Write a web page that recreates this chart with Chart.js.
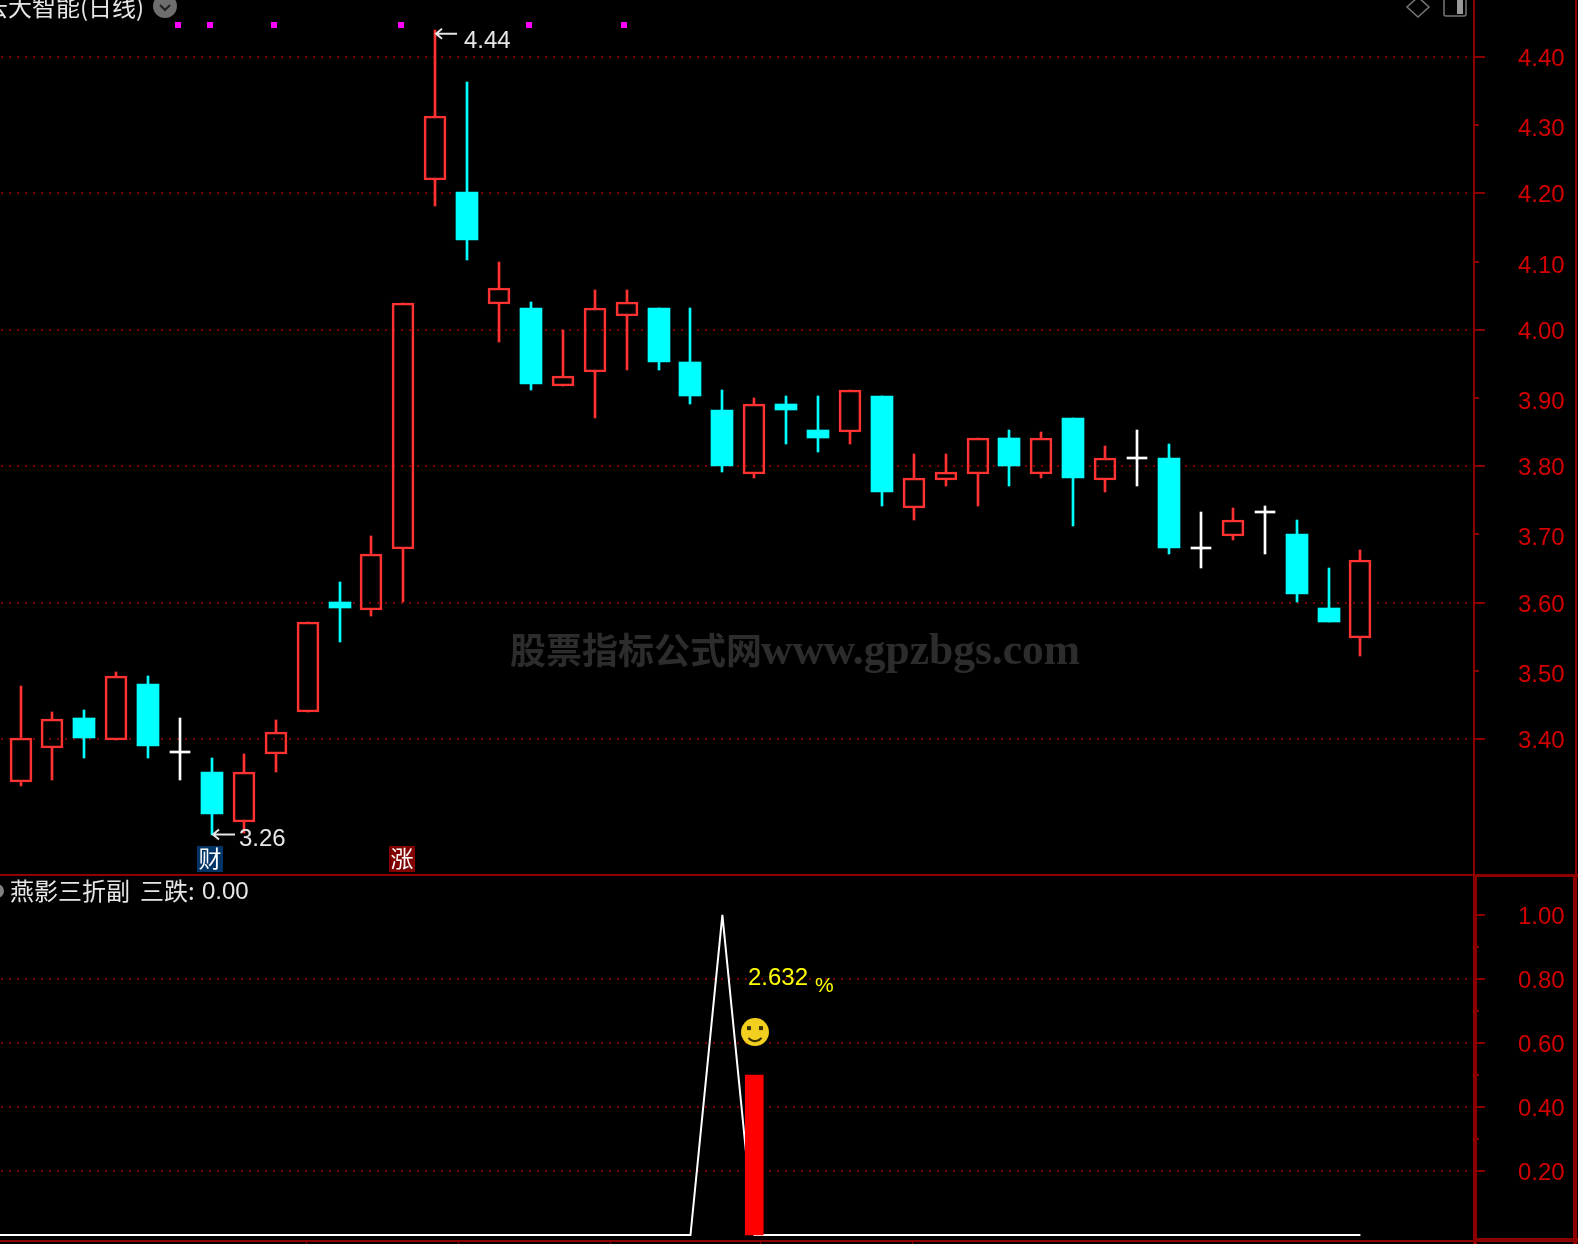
<!DOCTYPE html>
<html>
<head>
<meta charset="utf-8">
<title>燕影三折副</title>
<script src="https://cdn.jsdelivr.net/npm/chart.js@4/dist/chart.umd.js"></script>
<style>
  html, body { margin: 0; background: #000; overflow: hidden; }
  canvas { position: absolute; left: 0; }
  #priceChart { top: 0; }
  #signalChart { top: 874px; }
</style>
</head>
<body>
<canvas id="priceChart" width="1578" height="874"></canvas>
<canvas id="signalChart" width="1578" height="370"></canvas>
<script>
const days = [0,1,2,3,4,5,6,7,8,9,10,11,12,13,14,15,16,17,18,19,20,21,22,23,24,25,26,27,28,29,30,31,32,33,34,35,36,37,38,39,40,41,42];
const open = [3.337,3.387,3.431,3.399,3.481,3.380,3.352,3.278,3.378,3.440,3.601,3.589,3.678,4.220,4.202,4.038,4.032,3.918,3.938,4.020,4.032,3.953,3.882,3.789,3.891,3.853,3.850,3.903,3.739,3.780,3.789,3.841,3.789,3.871,3.780,3.811,3.812,3.679,3.698,3.731,3.701,3.592,3.548];
const close = [3.401,3.430,3.401,3.492,3.390,3.380,3.290,3.351,3.410,3.571,3.592,3.671,4.040,4.313,4.132,4.061,3.921,3.932,4.032,4.041,3.953,3.903,3.800,3.891,3.882,3.841,3.912,3.762,3.783,3.792,3.841,3.800,3.841,3.783,3.812,3.811,3.680,3.679,3.721,3.731,3.613,3.572,3.662];
const high = [3.478,3.440,3.443,3.498,3.492,3.431,3.372,3.378,3.428,3.571,3.630,3.698,4.040,4.440,4.363,4.099,4.041,4.000,4.058,4.058,4.032,4.032,3.912,3.900,3.903,3.903,3.912,3.903,3.818,3.818,3.841,3.853,3.850,3.871,3.830,3.853,3.833,3.733,3.739,3.742,3.721,3.651,3.677];
const low = [3.331,3.340,3.372,3.399,3.372,3.340,3.259,3.262,3.352,3.440,3.542,3.580,3.601,4.182,4.102,3.982,3.912,3.918,3.871,3.941,3.941,3.891,3.792,3.783,3.833,3.821,3.833,3.742,3.721,3.771,3.742,3.771,3.783,3.712,3.762,3.771,3.671,3.651,3.692,3.671,3.601,3.572,3.522];
const markDays = [4.93,5.93,7.93,11.93,15.93,18.93];
const markLevel = 4.447;

const signalDays = [-1,0,1,2,3,4,5,6,7,8,9,10,11,12,13,14,15,16,17,18,19,20,21,22,23,24,25,26,27,28,29,30,31,32,33,34,35,36,37,38,39,40,41,42];
const signal = [0,0,0,0,0,0,0,0,0,0,0,0,0,0,0,0,0,0,0,0,0,0,0,1,0,0,0,0,0,0,0,0,0,0,0,0,0,0,0,0,0,0,0,0];
const signalBarDay = 23;
const signalBarValue = 0.5;

const priceTicks = [3.4,3.5,3.6,3.7,3.8,3.9,4.0,4.1,4.2,4.3,4.4];
const priceGrid = [3.4,3.6,3.8,4.0,4.2,4.4];
const signalTicks = [0.2,0.4,0.6,0.8,1.0];
const signalGrid = [0.2,0.4,0.6,0.8];
const signalMinor = [0.3,0.5,0.7,0.9];
const timeTicks = [8.95,13.72,18.48,23.18,27.94];

const RED = '#ff3232', CYAN = '#00ffff', WHITE = '#ffffff';
const AXIS = '#8c0000', LABEL = '#d20000', TEXT = '#e6e6e6';
const latin = '"Liberation Sans"', cjk = '"Noto Sans CJK SC"';

// same x mapping in both panels so the candles line up with the signal
const xScale = { type: 'linear', min: -0.643, max: 45.56, offset: false, display: false };

function candleColor(i) {
  return close[i] > open[i] ? RED : close[i] < open[i] ? CYAN : WHITE;
}

function wickDataset(data) {
  return { data, grouped: false, barThickness: 2, order: 3,
    backgroundColor: c => candleColor(c.dataIndex) };
}

// keep bars on whole pixels, the original is not antialiased
const snapBars = {
  id: 'snapBars',
  afterDatasetsUpdate(chart) {
    chart.data.datasets.forEach((d, i) => {
      chart.getDatasetMeta(i).data.forEach(el => {
        el.x = Math.round(el.x);
        el.y = Math.round(el.y);
        if (el.base !== undefined) el.base = Math.round(el.base);
      });
    });
  }
};

function yAxis(min, max, ticks, grid) {
  return {
    type: 'linear', position: 'right', min, max, beginAtZero: false,
    afterFit(axis) {
      axis.width = 104;
      axis.paddingTop = 0;
      axis.paddingBottom = 0;
    },
    afterBuildTicks(axis) { axis.ticks = ticks.map(value => ({ value })); },
    border: { display: false, dash: [2, 6], dashOffset: -1 },
    grid: {
      drawTicks: false, lineWidth: 2,
      color: c => grid.includes(c.tick.value) ? '#800000' : 'transparent'
    },
    ticks: { display: false }
  };
}

// labels sit a bit below their tick in the original, unlabelled grid rows more so
function axisLabels(ctx, scale, values, grid, drop) {
  ctx.fillStyle = LABEL;
  ctx.font = '24px ' + latin;
  values.forEach(v => {
    const y = scale.getPixelForValue(v);
    ctx.fillText(v.toFixed(2), 1518, y + (grid.includes(v) ? 9 : drop));
  });
}

function tickMark(ctx, scale, value, from, to) {
  const y = Math.round(scale.getPixelForValue(value));
  ctx.fillRect(from, y - 1, to - from, 2);
}

function pricePointerLine(ctx, x, y, len) {
  ctx.strokeStyle = TEXT;
  ctx.lineWidth = 2;
  ctx.beginPath();
  ctx.moveTo(x + 7, y - 5);
  ctx.lineTo(x + 1, y);
  ctx.lineTo(x + 7, y + 5);
  ctx.moveTo(x + 1, y);
  ctx.lineTo(x + len, y);
  ctx.stroke();
}

function badge(ctx, x, bg, label) {
  ctx.fillStyle = bg;
  ctx.fillRect(x - 13, 846, 26, 26);
  ctx.fillStyle = WHITE;
  ctx.font = '23px ' + cjk;
  ctx.textAlign = 'center';
  ctx.fillText(label, x, 867);
  ctx.textAlign = 'left';
}

const priceOverlay = {
  id: 'priceOverlay',
  beforeDatasetsDraw(chart) {
    const ctx = chart.ctx;
    ctx.save();
    ctx.fillStyle = '#000';
    ctx.fillRect(1467, 0, 8, 874);
    ctx.fillStyle = '#2c2c2c';
    ctx.textBaseline = 'alphabetic';
    ctx.font = 'bold 36px ' + cjk;
    ctx.fillText('股票指标公式网', 510, 664);
    ctx.font = 'bold 43.5px "Liberation Serif"';
    ctx.fillText('www.gpzbgs.com', 761, 664);
    ctx.restore();
  },
  afterDraw(chart) {
    const ctx = chart.ctx, xs = chart.scales.x, ys = chart.scales.y;
    ctx.save();
    ctx.textBaseline = 'alphabetic';

    // axis lines and tick marks
    ctx.fillStyle = AXIS;
    ctx.fillRect(1473, 0, 2, 874);
    ctx.fillRect(1575, 0, 2, 874);
    priceTicks.forEach(v => tickMark(ctx, ys, v, 1475, priceGrid.includes(v) ? 1485 : 1479));
    axisLabels(ctx, ys, priceTicks, priceGrid, 11);

    // title, clipped by the window like in the screenshot
    ctx.fillStyle = TEXT;
    ctx.font = '24px ' + cjk;
    ctx.fillText('云大智能(日线)', -16, 16);

    // collapse button
    ctx.fillStyle = '#6e6e6e';
    ctx.beginPath();
    ctx.arc(165, 6, 12, 0, Math.PI * 2);
    ctx.fill();
    ctx.strokeStyle = '#222';
    ctx.lineWidth = 2;
    ctx.beginPath();
    ctx.moveTo(160, 5);
    ctx.lineTo(165, 10);
    ctx.lineTo(170, 5);
    ctx.stroke();

    // window icons top right
    ctx.strokeStyle = '#777';
    ctx.lineWidth = 1.5;
    ctx.beginPath();
    ctx.moveTo(1418, -3);
    ctx.lineTo(1429, 7);
    ctx.lineTo(1418, 17);
    ctx.lineTo(1407, 7);
    ctx.closePath();
    ctx.stroke();
    ctx.beginPath();
    ctx.roundRect(1444, -6, 22, 22, 2);
    ctx.stroke();
    ctx.fillStyle = '#999';
    ctx.fillRect(1457, 0, 6, 14);

    // high and low labels
    const hiX = Math.round(xs.getPixelForValue(13)), hiY = ys.getPixelForValue(4.44);
    pricePointerLine(ctx, hiX, hiY + 4, 22);
    ctx.fillStyle = TEXT;
    ctx.font = '24px ' + latin;
    ctx.fillText('4.44', hiX + 29, hiY + 18);
    const loX = Math.round(xs.getPixelForValue(6)), loY = ys.getPixelForValue(3.26);
    pricePointerLine(ctx, loX, loY, 23);
    ctx.fillStyle = TEXT;
    ctx.fillText('3.26', loX + 27, loY + 11);

    badge(ctx, Math.round(xs.getPixelForValue(6)) - 2, '#003366', '财');
    badge(ctx, Math.round(xs.getPixelForValue(12)) - 1, '#800000', '涨');
    ctx.restore();
  }
};

const signalOverlay = {
  id: 'signalOverlay',
  beforeDatasetsDraw(chart) {
    const ctx = chart.ctx;
    ctx.fillStyle = '#000';
    ctx.fillRect(1467, 0, 8, 370);
  },
  afterDraw(chart) {
    const ctx = chart.ctx, xs = chart.scales.x, ys = chart.scales.y;
    ctx.save();
    ctx.textBaseline = 'alphabetic';

    // panel frame, heavier than the one above
    ctx.fillStyle = AXIS;
    ctx.fillRect(0, 0, 1474, 2);
    ctx.fillRect(0, 366, 1474, 2);
    ctx.fillRect(1473, 0, 4, 370);
    ctx.fillRect(1473, 0, 105, 3);
    ctx.fillRect(1473, 364, 105, 4);
    ctx.fillRect(1573, 0, 4, 370);
    signalTicks.forEach(v => tickMark(ctx, ys, v, 1477, 1485));
    signalMinor.forEach(v => tickMark(ctx, ys, v, 1477, 1479));
    timeTicks.forEach(d => ctx.fillRect(Math.round(xs.getPixelForValue(d)), 368, 1, 2));
    axisLabels(ctx, ys, signalTicks, signalTicks, 9);

    // indicator title
    ctx.fillStyle = '#808080';
    ctx.beginPath();
    ctx.arc(-3, 17, 7, 0, Math.PI * 2);
    ctx.fill();
    ctx.fillStyle = TEXT;
    ctx.font = '24px ' + cjk;
    ctx.fillText('燕影三折副', 10, 26);
    ctx.fillText('三跌:', 140, 26);
    ctx.font = '24px ' + latin;
    ctx.fillText('0.00', 202, 25);

    const barX = Math.round(xs.getPixelForValue(signalBarDay));
    ctx.fillStyle = '#ffff00';
    ctx.fillText('2.632', barX - 6, ys.getPixelForValue(0.78));
    ctx.font = '21px ' + latin;
    ctx.fillText('%', barX + 61, ys.getPixelForValue(0.76));

    // smiley above the bar
    const cy = ys.getPixelForValue(0.634);
    ctx.fillStyle = '#f2cf1f';
    ctx.beginPath();
    ctx.arc(barX + 1, cy, 14, 0, Math.PI * 2);
    ctx.fill();
    ctx.fillStyle = '#3a3000';
    ctx.fillRect(barX - 7, cy - 6, 4, 4);
    ctx.fillRect(barX + 5, cy - 6, 4, 4);
    ctx.strokeStyle = '#3a3000';
    ctx.lineWidth = 2;
    ctx.beginPath();
    ctx.arc(barX + 1, cy + 1, 8, 0.2 * Math.PI, 0.8 * Math.PI);
    ctx.stroke();
    ctx.restore();
  }
};

const commonOptions = {
  responsive: false,
  animation: false,
  layout: { padding: 0, autoPadding: false },
  plugins: { legend: { display: false }, tooltip: { enabled: false } }
};

new Chart(document.getElementById('priceChart'), {
  type: 'bar',
  data: {
    labels: days,
    datasets: [
      wickDataset(days.map(i => [Math.max(open[i], close[i]), high[i]])),
      wickDataset(days.map(i => [low[i], Math.min(open[i], close[i])])),
      { // up days, hollow
        data: days.map(i => close[i] > open[i] ? [open[i], close[i]] : null),
        grouped: false, barThickness: 22, order: 2,
        backgroundColor: 'transparent', borderColor: RED, borderWidth: 2, borderSkipped: false
      },
      { // down days
        data: days.map(i => close[i] < open[i] ? [close[i], open[i]] : null),
        grouped: false, barThickness: 22, order: 2, backgroundColor: CYAN
      },
      { // flat days, just a crossbar
        data: days.map(i => close[i] === open[i] ? [open[i], close[i]] : null),
        grouped: false, barThickness: 20, minBarLength: 2, order: 2, backgroundColor: WHITE
      },
      {
        type: 'scatter',
        data: markDays.map(d => ({ x: d, y: markLevel })),
        pointStyle: 'rect', pointRadius: 4.25, pointHoverRadius: 4.25,
        backgroundColor: '#ff00ff', borderWidth: 0, order: 1
      }
    ]
  },
  options: {
    ...commonOptions,
    scales: { x: xScale, y: yAxis(3.2021, 4.4836, priceTicks, priceGrid) }
  },
  plugins: [snapBars, priceOverlay]
});

new Chart(document.getElementById('signalChart'), {
  type: 'bar',
  data: {
    labels: days,
    datasets: [
      {
        type: 'line',
        data: signalDays.map((d, i) => ({ x: d, y: signal[i] })),
        borderColor: WHITE, borderWidth: 2, pointRadius: 0, tension: 0, order: 2
      },
      {
        data: days.map(d => d === signalBarDay ? [0, signalBarValue] : null),
        grouped: false, barThickness: 18, backgroundColor: '#ff0000', order: 1
      }
    ]
  },
  options: {
    ...commonOptions,
    scales: { x: xScale, y: yAxis(-0.028, 1.128, signalTicks, signalGrid) }
  },
  plugins: [signalOverlay]
});
</script>
</body>
</html>
